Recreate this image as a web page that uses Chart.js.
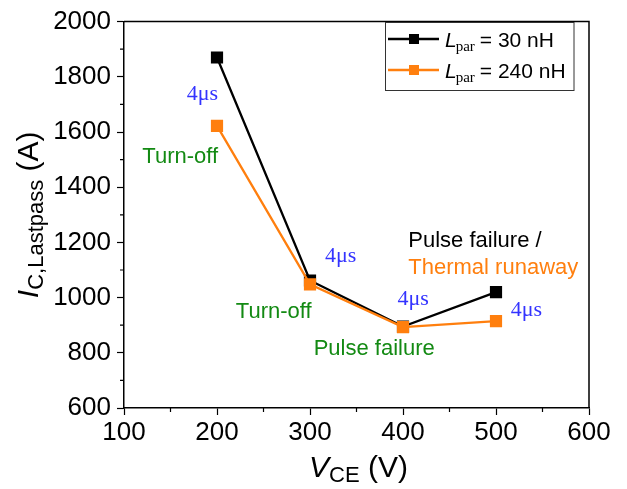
<!DOCTYPE html>
<html><head><meta charset="utf-8">
<script src="https://cdn.jsdelivr.net/npm/chart.js@4"></script>
<style>html,body{margin:0;padding:0;background:#fff}</style>
</head><body>
<canvas id="c" width="627" height="489"></canvas>
<script>
// ---- data ----
const vce = [200, 300, 400, 500];
const ic30 = [1870, 1062, 895, 1020];
const ic240 = [1622, 1048, 893, 915];
const xTickValues = [100, 200, 300, 400, 500, 600];
const yTickValues = [600, 800, 1000, 1200, 1400, 1600, 1800, 2000];
const xMinorTicks = [150, 250, 350, 450, 550];
const yMinorTicks = [700, 900, 1100, 1300, 1500, 1700, 1900];
const seriesNames = ['30 nH', '240 nH'];
const annoTexts = ['4μs', 'Turn-off', '4μs', 'Turn-off', '4μs', 'Pulse failure', '4μs', 'Pulse failure /', 'Thermal runaway'];
const annoX = [184.2, 160.5, 333, 261, 411, 369, 532.6, 405.7, 405.7];
const annoY = [1716, 1488, 1128, 926, 975, 791, 934, 1184, 1085];

// ---- styles ----
const BLACK = '#000000', ORANGE = '#ff7f0e', BLUE = '#3333ff', GREEN = '#138a13';
const annoStyle = [
  {c: BLUE, f: '22px "Liberation Serif"', a: 'center'},
  {c: GREEN, f: '22px "Liberation Sans"', a: 'center'},
  {c: BLUE, f: '22px "Liberation Serif"', a: 'center'},
  {c: GREEN, f: '22px "Liberation Sans"', a: 'center'},
  {c: BLUE, f: '22px "Liberation Serif"', a: 'center'},
  {c: GREEN, f: '22px "Liberation Sans"', a: 'center'},
  {c: BLUE, f: '22px "Liberation Serif"', a: 'center'},
  {c: BLACK, f: '22px "Liberation Sans"', a: 'left'},
  {c: ORANGE, f: '22px "Liberation Sans"', a: 'left'}
];

const extras = {
  id: 'extras',
  afterDraw(chart) {
    const ctx = chart.ctx, ca = chart.chartArea;
    const xs = chart.scales.x, ys = chart.scales.y;
    ctx.save();
    // frame top/right
    ctx.strokeStyle = BLACK; ctx.lineWidth = 1.5;
    ctx.beginPath();
    ctx.moveTo(ca.left, ca.top); ctx.lineTo(ca.right, ca.top); ctx.lineTo(ca.right, ca.bottom);
    ctx.stroke();
    // minor ticks
    ctx.lineWidth = 1.2;
    ctx.beginPath();
    xMinorTicks.forEach(v => { const px = xs.getPixelForValue(v); ctx.moveTo(px, ca.bottom); ctx.lineTo(px, ca.bottom + 4); });
    yMinorTicks.forEach(v => { const py = ys.getPixelForValue(v); ctx.moveTo(ca.left, py); ctx.lineTo(ca.left - 4, py); });
    ctx.stroke();
    // annotations
    ctx.textBaseline = 'alphabetic';
    annoTexts.forEach((t, i) => {
      const s = annoStyle[i];
      ctx.fillStyle = s.c; ctx.font = s.f; ctx.textAlign = s.a;
      ctx.fillText(t, xs.getPixelForValue(annoX[i]), ys.getPixelForValue(annoY[i]));
    });
    // x axis title
    ctx.fillStyle = BLACK; ctx.textAlign = 'left';
    const mainF = '30px "Liberation Sans"', itF = 'italic 30px "Liberation Sans"', subF = '22px "Liberation Sans"';
    function richWidth(parts) { let w = 0; parts.forEach(p => { ctx.font = p[1]; w += ctx.measureText(p[0]).width; }); return w; }
    function drawRich(parts, x, y) { parts.forEach(p => { ctx.font = p[1]; ctx.fillText(p[0], x, y + p[2]); x += ctx.measureText(p[0]).width; }); }
    const xt = [['V', itF, 0], ['CE', subF, 5], [' (V)', mainF, 0]];
    drawRich(xt, (ca.left + ca.right) / 2 - richWidth(xt) / 2 + 2, 476.5);
    // y axis title
    const yt = [['I', itF, 0], ['C,Lastpass', subF, 5], [' (A)', mainF, 0]];
    ctx.save();
    ctx.translate(38, (ca.top + ca.bottom) / 2);
    ctx.rotate(-Math.PI / 2);
    drawRich(yt, -richWidth(yt) / 2, 0);
    ctx.restore();
    // legend
    const lx = 385.5, ly = 22.5, lw = 188.5, lh = 68;
    ctx.fillStyle = '#fff'; ctx.fillRect(lx, ly, lw, lh);
    ctx.strokeStyle = '#333'; ctx.lineWidth = 1; ctx.strokeRect(lx, ly, lw, lh);
    chart.data.datasets.forEach((ds, i) => {
      const ry = 39 + i * 31;
      ctx.strokeStyle = ds.borderColor; ctx.lineWidth = 2.4;
      ctx.beginPath(); ctx.moveTo(388, ry); ctx.lineTo(439, ry); ctx.stroke();
      ctx.fillStyle = ds.backgroundColor; ctx.fillRect(414 - 5, ry - 5, 10, 10);
      ctx.fillStyle = BLACK; ctx.textAlign = 'left';
      let x = 445;
      ctx.font = 'italic 21px "Liberation Sans"'; ctx.fillText('L', x, ry + 8); x += ctx.measureText('L').width - 1;
      ctx.font = '15px "Liberation Serif"'; ctx.fillText('par', x, ry + 12); x += ctx.measureText('par').width + 5;
      ctx.font = '21px "Liberation Sans"'; ctx.fillText('= ' + ds.label, x, ry + 8);
    });
    ctx.restore();
  }
};

new Chart(document.getElementById('c'), {
  type: 'line',
  data: {
    datasets: [
      {label: seriesNames[0], data: vce.map((v, i) => ({x: v, y: ic30[i]})), borderColor: BLACK, backgroundColor: BLACK,
       borderWidth: 2.3, pointStyle: 'rect', pointRadius: 7, pointHoverRadius: 7, order: 1, tension: 0},
      {label: seriesNames[1], data: vce.map((v, i) => ({x: v, y: ic240[i]})), borderColor: ORANGE, backgroundColor: ORANGE,
       borderWidth: 2.3, pointStyle: 'rect', pointRadius: 7, pointHoverRadius: 7, order: 0, tension: 0}
    ]
  },
  options: {
    responsive: false, animation: false, devicePixelRatio: 1,
    layout: {padding: {top: 17, right: 38, left: 0, bottom: 0}},
    plugins: {legend: {display: false}, tooltip: {enabled: false}},
    scales: {
      x: {
        type: 'linear', min: 100, max: 600,
        afterBuildTicks: s => { s.ticks = xTickValues.map(v => ({value: v})); },
        afterFit: s => { s.height = 81; },
        grid: {drawOnChartArea: false, drawTicks: true, tickLength: 7, tickColor: BLACK, tickWidth: 1.2},
        border: {display: true, color: BLACK, width: 1.5},
        ticks: {color: BLACK, font: {family: 'Liberation Sans', size: 26}, padding: 2, maxRotation: 0, callback: v => String(v)}
      },
      y: {
        type: 'linear', min: 600, max: 2000,
        afterBuildTicks: s => { s.ticks = yTickValues.map(v => ({value: v})); },
        afterFit: s => { s.width = 124; },
        grid: {drawOnChartArea: false, drawTicks: true, tickLength: 7, tickColor: BLACK, tickWidth: 1.2},
        border: {display: true, color: BLACK, width: 1.5},
        ticks: {color: BLACK, font: {family: 'Liberation Sans', size: 26}, padding: 6, callback: v => String(v)}
      }
    }
  },
  plugins: [extras]
});
</script>
</body></html>
